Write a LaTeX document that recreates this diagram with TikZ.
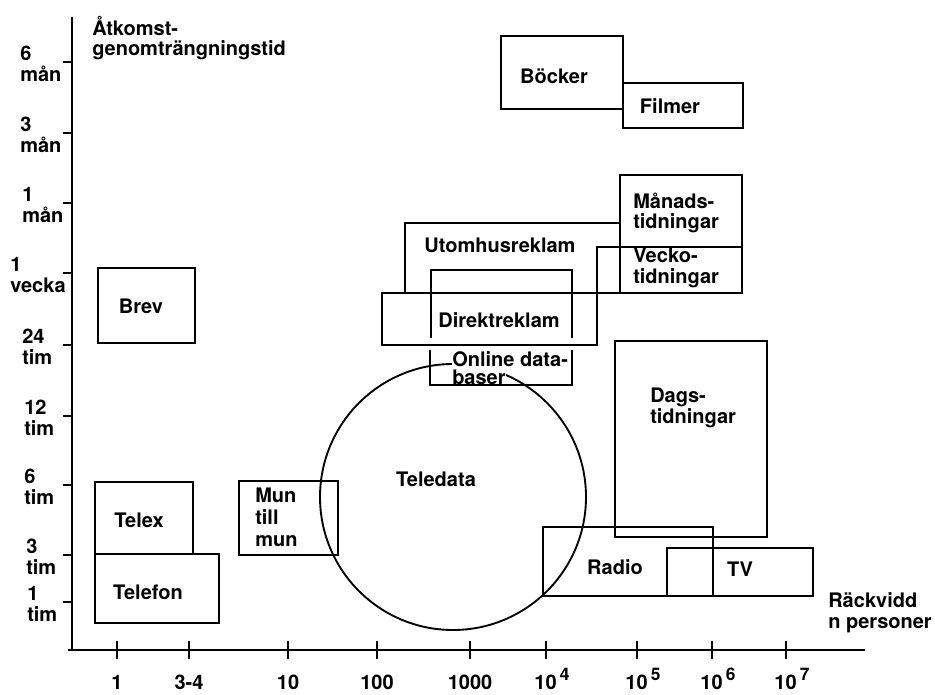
\documentclass[tikz,border=0pt]{standalone}
\usepackage{fontspec}
\setmainfont{TeX Gyre Heros}
\tikzset{
  box/.style={line width=1.6pt},
  lbl/.style={font=\bfseries\fontsize{15}{15.5}\selectfont, inner sep=0pt, align=left},
  lblwide/.style={lbl, font=\bfseries\fontsize{15}{16.5}\selectfont},
  mask/.style={lbl, fill=white, inner ysep=1.5pt}
}

\begin{document}
\begin{tikzpicture}[x=0.75pt, y=-0.75pt]
\useasboundingbox (0,0) rectangle (935,695);
\coordinate (origin) at (72,650);
\draw[box] (72,17) -- (origin);
\draw[box] (68,650) -- (865,650);
\node[lbl, anchor=west] (ytitle) at (92,38) {Åtkomst-\\genomträngningstid};
\node[lbl, anchor=west] (xtitle) at (828,613) {Räckvidd\\n personer};
\foreach \yy/\lx/\txt [count=\i] in {62/20/{6\\mån}, 133/20/{3\\mån}, 203/22/{1\\mån},
    273/10/{1\\vecka}, 345/22/{24\\tim}, 416/24/{12\\tim}, 485/24/{6\\tim},
    555/26/{3\\tim}, 602/27/{1\\tim}} {
  \draw[box] (63,\yy) -- (72,\yy);
  \node[lbl, anchor=west] (ylab\i) at (\lx,\yy+2) {\txt};
}
\foreach \xx/\txt [count=\i] in {117/1, 189/3-4, 288/10, 377/100, 470/1000} {
  \draw[box] (\xx,641) -- (\xx,659);
  \node[lbl, anchor=base] (xlab\i) at (\xx,689) {\txt};
}
\foreach \xx/\ex [count=\i] in {546/4, 637/5, 712/6, 786/7} {
  \draw[box] (\xx,641) -- (\xx,659);
  \node[lbl, anchor=base] (xpow\i) at (\xx+6,689)
    {10\,\raisebox{6.75pt}{\fontsize{13}{13}\selectfont\ex}};
}

% Teledata
\coordinate (tdc) at (453,497);
\draw[line width=1.4pt] (tdc) circle[radius=133];
\node[lbl] (teledata) at (436,479) {Teledata};
\node[mask, anchor=west] (online2) at (452,377) {baser};
\node[mask, anchor=west] (online1) at (452,359) {Online data-};
\draw[box] (430,350) -- (430,385) -- (572,385) -- (572,350);

\draw[box] (98,268) rectangle (195,343);
\node[lbl] (brev) at (141,306) {Brev};
\draw[box] (95,482) rectangle (193,554);
\node[lbl] (telex) at (139,520) {Telex};
\draw[box] (95,554) rectangle (219,623);
\node[lbl] (telefon) at (148,592) {Telefon};
\draw[box] (239,481) rectangle (338,555);
\node[lblwide, anchor=west] (mun) at (255,517) {Mun\\till\\mun};

\draw[box] (501,36) rectangle (623,109);
\node[lbl] (bocker) at (554,76) {Böcker};
\draw[box] (623,83) rectangle (743,128);
\node[lbl] (filmer) at (670,106) {Filmer};

\draw[box] (405,293) -- (405,223) -- (620,223);
\node[lbl] (utomhus) at (500,245) {Utomhusreklam};
\draw[box] (382,293) rectangle (597,345);
\draw[box] (431,338) -- (431,270) -- (572,270) -- (572,338);
\node[lbl] (direkt) at (499,320) {Direktreklam};
\draw[box] (620,175) rectangle (742,293);
\node[lbl, anchor=west] (manads) at (633,213) {Månads-\\tidningar};
\draw[box] (597,247) rectangle (742,293);
\node[lbl, anchor=west] (vecko) at (633,268) {Vecko-\\tidningar};

\draw[box] (615,341) rectangle (767,537);
\node[lbl, anchor=west] (dags) at (650,408) {Dags-\\tidningar};
\draw[box] (543,527) rectangle (713,596);
\node[lbl] (radio) at (615,567) {Radio};
\draw[box] (667,548) rectangle (813,596);
\node[lbl] (tv) at (740,569) {TV};
\end{tikzpicture}
\end{document}
